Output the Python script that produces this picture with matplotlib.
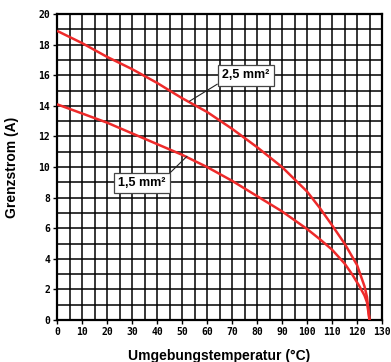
import matplotlib
matplotlib.use("Agg")
import matplotlib.pyplot as plt
import numpy as np

# ── Data ─────────────────────────────────────────────────────────────────
temp_25 = [0, 10, 20, 30, 40, 50, 60, 70, 80, 90, 100, 105, 110, 115, 120, 123, 124, 125]
curr_25 = [18.9, 18.1, 17.2, 16.4, 15.5, 14.5, 13.6, 12.5, 11.3, 10.0, 8.4, 7.35, 6.2, 5.0, 3.6, 2.2, 1.5, 0.0]

temp_15 = [0, 10, 20, 30, 40, 50, 60, 70, 80, 90, 100, 105, 110, 115, 118, 121, 123, 124, 125]
curr_15 = [14.1, 13.5, 12.9, 12.2, 11.5, 10.8, 10.0, 9.1, 8.1, 7.1, 5.95, 5.3, 4.6, 3.7, 3.0, 2.2, 1.6, 1.15, 0.0]

x_ticks = np.arange(0, 131, 10)
y_ticks = np.arange(0, 21, 2)

# ── Figure ───────────────────────────────────────────────────────────────
fig = plt.figure(figsize=(3.91, 3.62), dpi=100)
ax = fig.add_axes([57 / 391, 1 - 320 / 362, 325 / 391, 306 / 362])

# grid: every 5 °C and every 1 A
for xv in np.arange(5, 130, 5):
    ax.axvline(xv, color="black", lw=1.1, zorder=1)
for yv in np.arange(1, 20, 1):
    ax.axhline(yv, color="black", lw=1.1, zorder=1)

ax.plot(temp_25, curr_25, color="#ee2a2a", lw=1.8, zorder=3, solid_capstyle="butt")
ax.plot(temp_15, curr_15, color="#ee2a2a", lw=1.8, zorder=3, solid_capstyle="butt")

ax.set_xlim(0, 130)
ax.set_ylim(0, 20)
ax.set_xticks(x_ticks)
ax.set_yticks(y_ticks)
ax.tick_params(direction="out", length=3, width=1, pad=2, labelsize=7)
for lab in ax.get_xticklabels() + ax.get_yticklabels():
    lab.set_family("DejaVu Sans Mono")
    lab.set_fontweight("bold")
for sp in ax.spines.values():
    sp.set_linewidth(1.6)

ax.set_xlabel("Umgebungstemperatur (°C)", family="Liberation Sans",
              fontweight="bold", fontsize=10, labelpad=9)
ax.set_ylabel("Grenzstrom (A)", family="Liberation Sans",
              fontweight="bold", fontsize=10, labelpad=14)

box = dict(boxstyle="square,pad=0.35", fc="white", ec="#444444", lw=0.9)
ax.annotate("2,5 mm²", xy=(53, 14.3), xytext=(75.5, 16.0),
            ha="center", va="center", fontsize=9, fontweight="bold",
            family="Liberation Sans", bbox=box, zorder=5,
            arrowprops=dict(arrowstyle="-", color="#222222", lw=0.8,
                            shrinkA=0, shrinkB=0,
                            relpos=(0, 0)))
ax.annotate("1,5 mm²", xy=(52, 10.7), xytext=(34, 8.95),
            ha="center", va="center", fontsize=9, fontweight="bold",
            family="Liberation Sans", bbox=box, zorder=5,
            arrowprops=dict(arrowstyle="-", color="#222222", lw=0.8,
                            shrinkA=0, shrinkB=0,
                            relpos=(1, 1)))

fig.savefig("out.png", dpi=100)
